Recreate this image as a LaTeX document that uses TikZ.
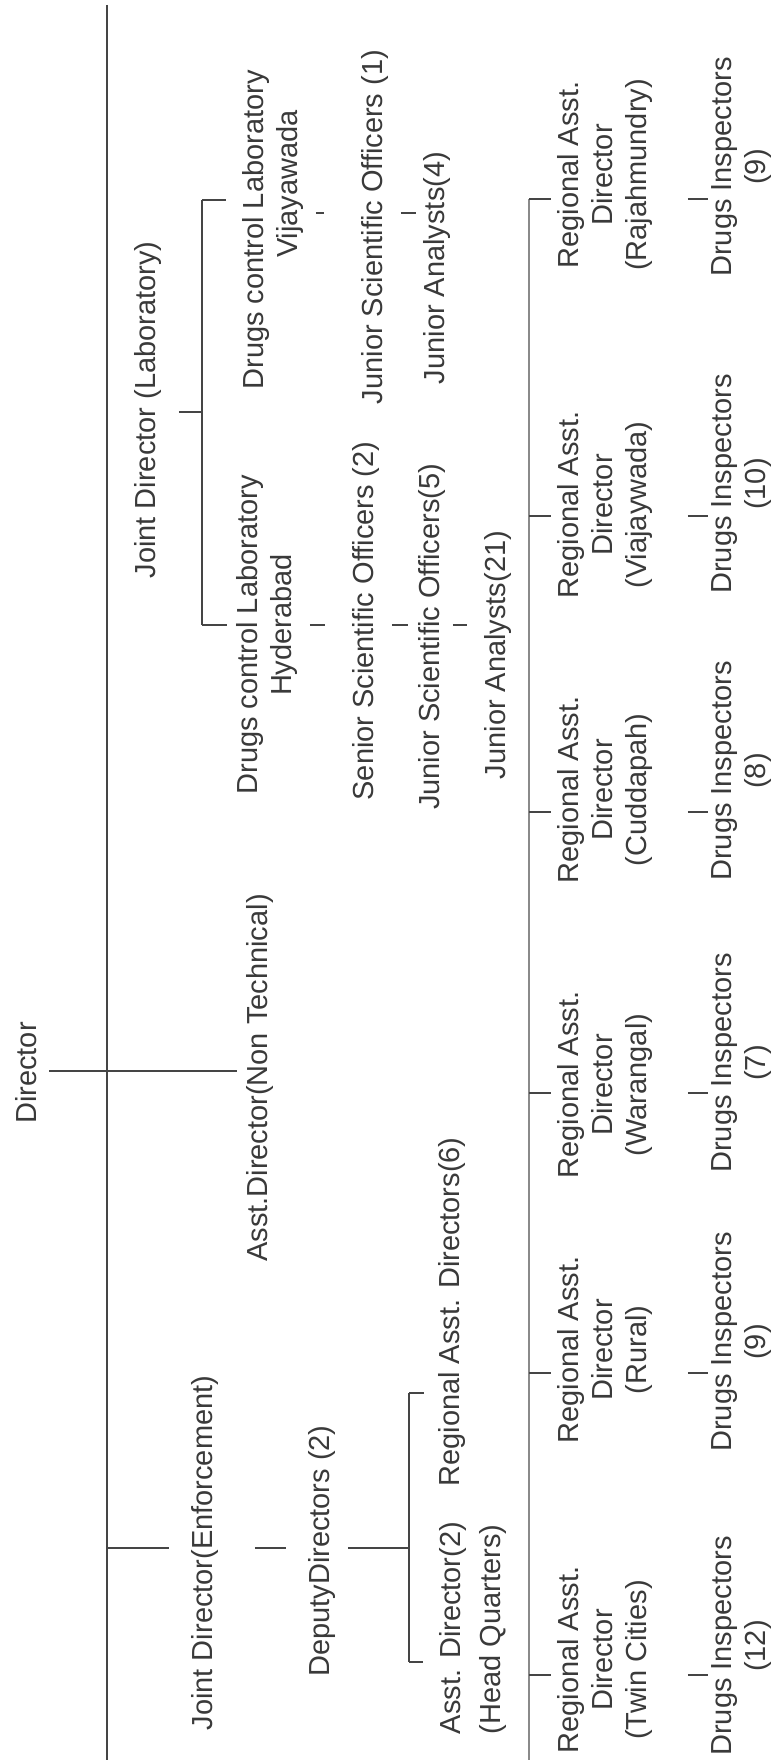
\documentclass[tikz,border=0pt]{standalone}
\usepackage{fontspec}
\setmainfont{Liberation Sans}
\definecolor{ink}{HTML}{3A3A3A}
\definecolor{lineC}{HTML}{454545}
\definecolor{lightline}{HTML}{8A8A8A}
\begin{document}
\begin{tikzpicture}[x=0.5pt,y=0.5pt,
  lbl/.style={rotate=90, inner sep=2pt, text=ink, font=\fontsize{14.5}{17}\selectfont, align=center},
  conn/.style={draw=lineC, line width=0.9pt},
  bus/.style={draw=lineC, line width=1.4pt},
  lbus/.style={draw=lightline, line width=0.7pt}]
\fill[white] (0,0) rectangle (775,-1760);
\useasboundingbox (0,0) rectangle (775,-1760);

% top level
\node[lbl] (director) at (26,-1073) {Director};
\node[lbl] (jdlab) at (148,-410) {Joint Director (Laboratory)};
\node[lbl] (adnt) at (260,-1078) {Asst.Director(Non Technical)};
\node[lbl] (jdenf) at (205,-1553) {Joint Director(Enforcement)};
\node[lbl] (dd) at (322,-1551) {DeputyDirectors (2)};
\node[lbl] (rad6) at (452,-1312) {Regional Asst. Directors(6)};
\node[lbl, align=left, font=\fontsize{14.5}{20}\selectfont] (adhq) at (473,-1628) {Asst. Director(2)\\(Head Quarters)};

% laboratory branch
\node[lbl] (dclv) at (273,-230) {Drugs control Laboratory\\\hspace*{46pt}Vijayawada};
\node[lbl] (jso1) at (375,-227) {Junior Scientific Officers (1)};
\node[lbl] (ja4) at (437,-268) {Junior Analysts(4)};
\node[lbl] (dclh) at (267,-635) {Drugs control Laboratory\\\hspace*{10pt}Hyderabad};
\node[lbl] (sso2) at (366,-621) {Senior Scientific Officers (2)};
\node[lbl] (jso5) at (432,-637) {Junior Scientific Officers(5)};
\node[lbl] (ja21) at (498,-655) {Junior Analysts(21)};

% regional offices
\node[lbl] (r1) at (605,-175) {Regional Asst.\\Director\\(Rajahmundry)};
\node[lbl] (r2) at (605,-505) {Regional Asst.\\Director\\(Viajaywada)};
\node[lbl] (r3) at (605,-790) {Regional Asst.\\Director\\(Cuddapah)};
\node[lbl] (r4) at (605,-1085) {Regional Asst.\\Director\\(Warangal)};
\node[lbl] (r5) at (605,-1350) {Regional Asst.\\Director\\(Rural)};
\node[lbl] (r6) at (605,-1660) {Regional Asst.\\Director\\(Twin Cities)};

\node[lbl] (d1) at (742,-167) {Drugs Inspectors\\(9)};
\node[lbl] (d2) at (742,-484) {Drugs Inspectors\\(10)};
\node[lbl] (d3) at (742,-771) {Drugs Inspectors\\(8)};
\node[lbl] (d4) at (742,-1063) {Drugs Inspectors\\(7)};
\node[lbl] (d5) at (742,-1342) {Drugs Inspectors\\(9)};
\node[lbl] (d6) at (742,-1646) {Drugs Inspectors\\(12)};

% bus coordinates
\coordinate (mtop) at (107,-5);
\coordinate (mbot) at (107,-1760);
\coordinate (labtop) at (202,-200);
\coordinate (labbot) at (202,-625);
\coordinate (deptop) at (409,-1393);
\coordinate (depbot) at (409,-1662);
\coordinate (regtop) at (529,-199);
\coordinate (regbot) at (529,-1760);
\coordinate (c1) at (0,-199);
\coordinate (c2) at (0,-516);
\coordinate (c3) at (0,-812);
\coordinate (c4) at (0,-1093);
\coordinate (c5) at (0,-1373);
\coordinate (c6) at (0,-1675);
\coordinate (cjd) at (0,-1548);
\coordinate (cv) at (0,-213);
\coordinate (ch) at (0,-625);
\coordinate (cjl) at (0,-412);
\coordinate (cdir) at (0,-1071);

% main bus and director
\draw[bus] (mtop) -- (mbot);
\draw[bus, shorten <=4pt, shorten >=2.5pt] (director.south |- cdir) -- (adnt.north |- cdir);

% enforcement branch
\draw[conn, shorten >=9pt] (mtop |- cjd) -- (jdenf.north |- cjd);
\draw[conn, shorten <=16pt, shorten >=9pt] (jdenf.south |- cjd) -- (dd.north |- cjd);
\draw[conn, shorten <=4pt] (dd.south |- cjd) -- (deptop |- cjd);
\draw[conn] (deptop) -- (depbot);
\draw[conn, shorten >=5pt] (deptop) -- (rad6.north |- deptop);
\draw[conn, shorten >=6pt] (depbot) -- (adhq.north |- depbot);

% laboratory branch
\draw[conn, shorten <=6.5pt] (jdlab.south |- cjl) -- (labtop |- cjl);
\draw[conn] (labtop) -- (labbot);
\draw[conn, shorten >=6pt] (labtop) -- (dclv.north |- labtop);
\draw[conn, shorten >=2.5pt] (labbot) -- (dclh.north |- labbot);
\draw[conn, shorten <=4pt, shorten >=16.5pt] (dclv.south |- cv) -- (jso1.north |- cv);
\draw[conn, shorten <=4pt, shorten >=1.5pt] (jso1.south |- cv) -- (ja4.north |- cv);
\draw[conn, shorten <=4pt, shorten >=11.5pt] (dclh.south |- ch) -- (sso2.north |- ch);
\draw[conn, shorten <=4pt, shorten >=3pt] (sso2.south |- ch) -- (jso5.north |- ch);
\draw[conn, shorten <=1.5pt, shorten >=6.5pt] (jso5.south |- ch) -- (ja21.north |- ch);

% regional bus
\draw[lbus] (regtop) -- (regbot);
\foreach \r/\c in {r1/c1,r2/c2,r3/c3,r4/c4,r5/c5,r6/c6}{
  \draw[conn, shorten >=1pt] (regtop |- \c) -- (\r.north |- \c);
}
\foreach \r/\d/\c in {r1/d1/c1,r2/d2/c2,r3/d3/c3,r4/d4/c4,r5/d5/c5,r6/d6/c6}{
  \draw[conn, shorten <=15.5pt] (\r.south |- \c) -- (\d.north |- \c);
}
\end{tikzpicture}
\end{document}
